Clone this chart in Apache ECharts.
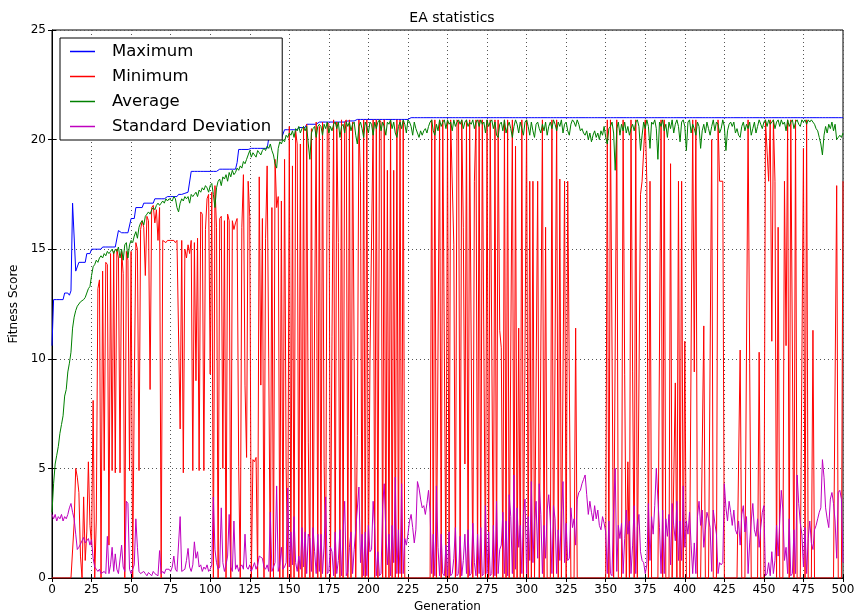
<!DOCTYPE html>
<html><head><meta charset="utf-8">
<script src="https://cdn.jsdelivr.net/npm/echarts@6/dist/echarts.min.js"></script>
<style>html,body{margin:0;padding:0;background:#fff}#c{width:856px;height:614px}</style>
</head><body><div id="c"></div>
<script>
var seriesNames = ["Maximum", "Minimum", "Average", "Standard Deviation"];
var xTicks = [0,25,50,75,100,125,150,175,200,225,250,275,300,325,350,375,400,425,450,475,500];
var yTicks = [0,5,10,15,20,25];

var maximum = [
10.6,12.7,12.7,12.7,12.7,12.7,12.7,12.7,13.0,13.0,
13.0,12.9,13.1,17.1,17.1,14.0,14.0,14.4,14.4,14.4,
14.4,14.4,14.8,14.8,14.8,15.0,15.0,15.0,15.0,15.0,
15.0,15.0,15.1,15.1,15.1,15.1,15.1,15.1,15.1,15.1,
15.1,15.1,15.85,15.85,15.75,15.75,15.75,15.75,15.75,15.75,
16.4,16.4,16.4,16.9,16.9,16.9,16.9,16.9,17.1,17.1,
17.1,17.1,17.1,17.1,17.1,17.3,17.3,17.3,17.3,17.3,
17.3,17.3,17.3,17.4,17.4,17.4,17.4,17.4,17.4,17.4,
17.5,17.5,17.5,17.55,17.55,17.6,17.6,17.65,18.55,18.55,
18.55,18.55,18.55,18.55,18.55,18.55,18.55,18.55,18.55,18.55,
18.55,18.55,18.55,18.55,18.55,18.55,18.65,18.65,18.65,18.65,
18.65,18.65,18.65,18.65,18.65,18.65,18.65,18.95,19.55,19.55,
19.55,19.55,19.55,19.55,19.55,19.6,19.6,19.6,19.6,19.6,
19.6,19.6,19.6,19.6,19.6,19.6,19.6,20.05,20.05,20.05,
20.05,20.05,20.05,20.05,20.05,20.05,20.05,20.45,20.45,20.45,
20.45,20.45,20.45,20.45,20.45,20.45,20.55,20.55,20.55,20.55,
20.55,20.7,20.7,20.7,20.7,20.7,20.7,20.7,20.7,20.8,
20.8,20.8,20.8,20.8,20.8,20.8,20.8,20.8,20.8,20.8,
20.8,20.8,20.8,20.8,20.8,20.8,20.85,20.85,20.85,20.85,
20.85,20.85,20.85,20.92,20.92,20.92,20.92,20.92,20.92,20.92,
20.92,20.92,20.92,20.92,20.92,20.92,20.92,20.92,20.92,20.92,
20.92,20.92,20.92,20.92,20.92,20.92,20.92,20.92,20.92,20.92,
20.92,20.92,20.92,20.92,20.92,20.92,21,21,21,21,
21,21,21,21,21,21,21,21,21,21,
21,21,21,21,21,21,21,21,21,21,
21,21,21,21,21,21,21,21,21,21,
21,21,21,21,21,21,21,21,21,21,
21,21,21,21,21,21,21,21,21,21,
21,21,21,21,21,21,21,21,21,21,
21,21,21,21,21,21,21,21,21,21,
21,21,21,21,21,21,21,21,21,21,
21,21,21,21,21,21,21,21,21,21,
21,21,21,21,21,21,21,21,21,21,
21,21,21,21,21,21,21,21,21,21,
21,21,21,21,21,21,21,21,21,21,
21,21,21,21,21,21,21,21,21,21,
21,21,21,21,21,21,21,21,21,21,
21,21,21,21,21,21,21,21,21,21,
21,21,21,21,21,21,21,21,21,21,
21,21,21,21,21,21,21,21,21,21,
21,21,21,21,21,21,21,21,21,21,
21,21,21,21,21,21,21,21,21,21,
21,21,21,21,21,21,21,21,21,21,
21,21,21,21,21,21,21,21,21,21,
21,21,21,21,21,21,21,21,21,21,
21,21,21,21,21,21,21,21,21,21,
21,21,21,21,21,21,21,21,21,21,
21,21,21,21,21,21,21,21,21,21,
21,21,21,21,21,21,21,21,21,21,
21,21,21,21,21,21,21,21,21,21,
21];

var minimum = [
0,0,0,0,0,0,0,0,0,0,
0,0,0,0,2.5,5.0,4.6,3.9,1.0,0,
3.7,0.8,2.1,5.3,2.4,1.5,8.1,0,2.6,13.2,
13.6,0,14.0,4.9,14.4,14.3,1.5,14.8,4.9,14.9,
4.8,15.0,14.6,4.8,14.9,13.9,0,14.9,14.5,4.9,
14.9,0,8.6,15.3,15.0,4.9,15.9,16.3,16.0,13.8,
16.5,16.3,8.6,16.9,17.0,16.2,16.8,15.4,16.9,0,
15.4,15.4,15.3,15.4,15.4,15.4,15.4,15.4,15.3,15.4,
15.4,6.8,15.4,4.8,15.0,14.6,15.2,14.8,15.4,4.9,
15.3,9.0,15.5,4.9,16.7,16.6,4.9,15.9,17.3,17.5,
9.3,17.6,0,17.9,16.0,0,16.4,16.5,5.0,16.3,
0,16.6,16.3,0,16.3,15.9,16.2,16.4,5.1,0,
16.0,18.4,8.8,5.5,18.1,16.5,0,5.4,5.3,5.5,
0,18.3,8.8,16.4,0,15.5,18.8,10.0,0,16.9,
0,19.1,16.9,17.4,0,17.2,0,19.1,5.1,0,
20.6,0,18.8,0,20.4,19.8,0,19.8,0,20.6,
0,20.7,6.2,0,20.5,0,12.0,20.8,0,20.6,
0,20.8,5.3,0,20.8,20.7,0,11.0,20.9,0,
20.8,15.3,0,20.9,0,20.8,20.9,0,20.9,0,
20.8,10.1,0,6.5,20.9,18.1,0,20.9,0,20.9,
0,10.0,10.0,20.9,0,20.9,0,20.9,20.8,0,
20.9,0,18.6,0,20.9,0,18.6,0,20.9,0,
20.9,0,20.85,0,0,0,0,0,0,0,
0,0,0,0,0,0,0,0,0,0,
20.9,0,20.9,0,0,20.9,0,20.9,20.9,0,
20.9,0,20.9,20.9,15.2,0,20.9,20.8,0,20.9,
16.0,5.2,20.9,0,20.9,20.9,0,18.1,20.9,0,
20.9,0,20.9,20.9,0,20.9,0,20.9,20.9,0,
20.9,0,20.9,11.3,10.5,0,20.9,0,20.9,0,
0,20.9,0,19.7,0,11.4,0,20.9,0,0,
20.9,0,18.1,0,18.1,0,0,18.1,0,0,
20.9,0,16.0,0,0,0,20.9,0,0,20.9,
0,18.2,0,0,18.1,0,18.1,18.1,0,0,
0,11.4,0,0,0,0,0,0,0,0,
0,0,0,0,0,0,0,0,0,0,
0,20.9,0,20.9,20.9,0,0,20.9,0,0,
0,20.9,9.3,0,5.3,0,20.9,9.4,0,20.9,
0,0,17.5,18.1,18.1,20.9,18.1,0,18.1,0,
0,0,0,0,0,20.9,0,20.9,0,0,
0,18.9,0,0,8.9,0,18.1,0,18.1,0,
10.8,0,0,0,0,20.9,9.4,20.9,0,0,
0,0,11.5,0,0,0,0,20.0,0,0,
0,20.9,18.1,18.1,18.1,0,0,0,0,0,
0,0,0,0,0,10.4,0,0,0,0,
20.9,9.8,0,0,0,0,0,10.3,0,0,
0,20.9,20.9,18.1,20.9,10.8,20.9,18.1,0,16.0,
0,0,0,18.1,10.6,20.9,0,20.9,20.9,0,
20.9,0,0,0,0,19.6,0,20.9,0,0,
0,11.3,0,0,0,0,0,0,0,0,
0,0,0,0,0,0,17.9,0,0,0,
18.1];

var average = [
3.0,4.3,5.2,5.6,6.0,6.6,7.0,7.4,8.3,8.6,
9.4,9.8,10.3,11.4,11.9,12.2,12.4,12.5,12.6,12.6,
12.7,12.8,13.0,13.2,13.3,13.8,14.2,14.3,14.5,14.4,
14.6,14.7,14.6,14.8,14.7,14.9,14.8,14.9,15.0,14.8,
15.0,14.9,15.1,14.6,15.0,14.5,15.2,15.3,14.6,15.2,
15.4,15.3,15.6,15.8,15.5,16.0,16.2,16.3,16.1,16.5,
16.6,16.7,16.6,16.8,16.9,16.8,17.0,17.1,17.0,17.1,
17.2,17.1,17.3,17.2,17.3,17.3,17.2,17.4,17.3,16.9,
16.7,17.1,17.3,17.2,17.4,17.3,17.4,17.1,17.5,17.4,
17.5,17.6,17.4,17.7,17.6,17.8,17.7,17.9,17.8,17.6,
17.9,18.0,17.5,16.9,17.8,18.1,18.2,17.9,18.3,18.2,
18.4,18.1,18.5,18.3,18.6,18.4,18.5,18.7,18.6,18.8,
18.7,19.0,18.9,19.1,19.3,19.5,19.2,19.4,19.3,19.2,
19.5,19.4,19.3,19.5,19.6,19.5,19.7,19.6,19.8,19.5,
19.3,18.9,18.7,19.6,19.9,19.8,20.0,19.9,20.2,20.1,
20.3,20.2,20.4,20.1,20.5,20.4,20.6,20.3,20.5,20.6,
20.4,20.6,19.8,19.1,20.3,20.5,20.6,20.1,20.6,20.7,
20.6,20.2,20.7,20.5,20.8,20.3,20.6,20.4,20.7,20.8,
20.5,20.8,20.1,20.6,20.7,20.3,20.8,20.6,20.8,20.4,
20.7,20.8,20.2,19.8,20.6,20.8,20.5,20.1,20.8,20.6,
20.3,20.8,20.7,20.2,20.8,20.5,20.8,20.9,20.4,20.8,
20.6,20.2,20.8,20.7,20.9,20.5,20.8,20.3,20.1,20.6,
20.8,20.5,20.9,20.7,20.3,20.9,20.8,20.6,20.2,20.8,
20.5,20.3,20.1,20.4,20.2,20.4,20.5,20.3,20.6,20.8,
20.9,20.4,20.2,20.7,20.4,20.9,20.6,20.8,20.9,20.5,
20.9,20.7,20.8,20.4,20.9,20.6,20.8,20.9,20.7,20.9,
20.5,20.8,20.9,20.6,20.8,20.7,20.9,20.5,20.8,20.9,
20.6,20.9,20.7,20.8,20.3,20.9,20.6,20.8,20.9,20.5,
20.8,20.2,20.1,20.7,20.8,20.4,20.9,20.3,20.6,20.8,
20.5,20.1,20.6,20.9,20.7,20.3,20.8,20.5,20.2,20.8,
20.9,20.6,20.2,20.8,20.4,20.1,20.7,20.8,20.5,20.3,
20.7,20.4,20.8,20.2,20.6,20.8,20.5,20.9,20.7,20.4,
20.8,20.6,20.9,20.3,20.7,20.8,20.4,20.2,20.7,20.9,
20.8,20.6,20.9,20.7,20.4,20.5,20.3,20.2,20.4,20.0,
20.3,19.9,20.2,20.4,20.1,20.3,20.0,20.4,20.2,20.6,
20.1,19.8,20.5,20.6,20.8,20.3,18.6,20.5,20.8,20.2,
20.7,20.4,20.8,20.3,20.6,20.2,20.5,20.7,20.4,20.8,
20.9,20.6,19.5,20.2,20.8,20.5,20.9,20.6,19.6,20.8,
20.7,20.9,20.5,19.1,20.8,20.6,20.9,20.4,20.7,20.1,
20.8,20.5,20.9,20.3,20.7,20.9,20.6,19.9,20.8,20.9,
20.6,19.5,20.8,20.9,20.3,20.7,20.5,20.2,20.8,20.6,
19.6,20.4,20.7,20.3,20.8,20.5,20.2,20.6,20.9,20.4,
20.8,20.7,20.3,20.5,20.9,20.6,19.5,20.4,20.7,20.8,
20.6,20.8,20.3,20.5,20.2,20.1,20.6,20.8,20.4,20.7,
20.5,20.8,20.2,20.5,20.8,20.3,20.6,20.9,20.7,20.5,
20.8,20.9,20.6,20.9,20.7,20.8,20.9,20.5,20.8,20.9,
20.6,20.9,20.7,20.8,20.4,20.9,20.6,20.8,20.9,20.5,
20.8,20.9,20.7,20.6,20.9,20.8,20.9,20.7,20.9,20.8,
20.9,20.8,20.7,20.5,20.4,20.1,19.8,19.3,20.2,20.6,
20.3,20.7,20.5,20.8,20.4,20.7,20.0,20.1,20.2,20.1,
20.3];

var stdDev = [
2.9,2.7,2.9,2.6,2.8,2.7,2.9,2.6,2.8,2.7,
2.9,3.2,3.4,3.0,2.7,2.0,1.3,1.4,1.55,1.7,
1.85,1.6,1.7,1.8,1.5,1.75,0.9,0.5,0.4,0.3,
0.4,0.2,0.15,0.3,0.2,1.9,0.2,0.6,1.4,0.3,
1.1,0.4,0.2,0.15,1.5,0.5,0.3,3.5,3.4,0.4,
0.2,0.15,0.6,2.7,1.4,0.3,0.2,0.15,0.3,0.2,
0.1,0.25,0.2,0.1,0.3,0.2,0.15,0.1,1.25,0.2,
0.3,0.2,0.4,0.35,0.4,0.3,0.5,1.0,0.4,0.3,
0.3,2.8,0.3,0.3,0.4,0.8,1.35,0.5,0.3,0.6,
1.65,0.9,1.2,0.5,0.6,0.3,0.5,0.4,0.6,0.3,
0.4,0.6,3.7,1.3,0.7,0.4,0.5,3.2,0.7,0.3,
0.6,1.0,2.9,0.5,0.3,2.6,0.4,0.6,0.3,0.5,
0.6,0.4,2.0,0.5,0.4,0.6,0.3,0.5,0.7,0.4,
0.6,1.0,1.0,0.9,0.5,0.4,0.6,0.3,3.0,0.3,
0.5,0.7,4.2,0.3,0.6,1.4,0.4,0.5,0.7,4.1,
0.5,2.1,0.6,2.8,0.7,0.3,1.0,0.4,2.3,0.5,
2.1,0.2,2.0,1.8,0.3,2.3,1.2,0.2,2.0,0.3,
2.0,0.2,1.5,3.7,0.2,0.3,1.4,1.2,0.1,2.1,
0.2,0.8,2.2,0.1,2.0,3.5,0.1,0.3,1.4,2.1,
0.2,1.3,2.2,2.2,4.15,0.7,2.0,0.1,2.1,0.1,
2.4,1.2,1.3,3.5,2.2,0.1,1.2,0.1,0.2,3.3,
4.3,2.1,0.6,2.0,0.1,2.4,0.7,4.6,0.2,2.2,
0.2,4.3,0.2,1.8,1.5,2.0,2.6,2.9,2.3,1.6,
2.2,4.4,4.1,3.6,3.2,3.3,2.9,3.4,4.0,3.0,
0.2,2.0,0.1,4.2,1.4,0.1,2.0,0.2,0.1,1.5,
0.1,2.1,0.1,0.2,0.9,2.3,0.1,0.2,1.9,0.1,
0.8,2.0,0.2,2.2,0.1,0.2,2.5,0.7,0.1,2.0,
0.2,2.3,0.1,0.2,3.3,0.2,2.1,0.1,0.2,2.4,
0.1,3.5,0.2,1.3,1.5,3.0,0.2,2.6,0.1,3.8,
2.8,0.2,4.7,0.4,3.2,1.4,2.4,0.2,2.9,3.6,
0.2,2.8,0.8,4.4,0.7,2.6,3.5,0.9,4.3,2.9,
0.2,2.4,0.9,3.1,3.8,2.6,0.2,3.3,2.7,0.2,
2.2,0.8,3.0,4.4,0.7,2.5,0.8,0.9,3.2,2.3,
2.7,1.5,3.6,3.9,4.0,4.3,4.5,4.7,3.8,2.9,
3.5,3.0,2.6,3.3,2.7,3.1,2.4,2.2,2.8,2.5,
2.1,0.2,2.6,0.2,0.1,3.2,5.0,0.3,2.4,1.8,
2.5,0.2,1.8,3.1,2.0,2.6,0.2,1.5,3.3,0.2,
2.3,2.9,1.2,0.8,0.7,0.2,0.6,3.4,0.8,2.8,
2.0,3.3,5.0,3.6,2.3,0.2,3.1,0.2,2.7,1.9,
2.9,0.6,3.4,2.4,1.7,3.5,0.8,2.6,0.8,4.2,
1.4,2.6,2.0,3.0,1.5,0.2,1.6,0.2,2.8,3.5,
2.4,3.1,1.4,2.2,3.0,2.7,2.3,0.3,3.1,2.5,
2.0,0.2,0.7,0.6,0.7,4.3,3.2,2.6,3.5,3.0,
2.4,3.1,2.2,2.0,2.6,1.5,2.9,3.3,2.1,2.8,
0.2,1.6,2.6,3.4,2.2,1.9,2.7,1.4,2.3,3.0,
3.3,0.1,0.2,0.7,0.1,1.2,0.2,0.8,2.4,1.0,
2.6,4.0,3.1,0.8,1.4,0.2,2.7,0.1,0.2,2.2,
0.2,4.7,3.4,2.5,2.0,0.5,2.3,0.2,1.8,2.6,
1.6,1.3,2.2,2.4,2.7,3.0,3.2,5.4,4.6,3.2,
2.7,2.3,3.6,3.9,3.4,2.6,0.9,3.9,4.0,3.6,
0.7];

var colors = ["#0000ff", "#ff0000", "#008000", "#bf00bf"];
var seriesData = [maximum, minimum, average, stdDev];

function pairs(arr) { return arr.map(function (v, i) { return [i, v]; }); }

var FONT = "DejaVu Sans";
var chart = echarts.init(document.getElementById('c'), null, { renderer: 'canvas' });
var gridLine = { show: true, lineStyle: { color: '#555', type: [1, 3], width: 1 } };
var tickStyle = { show: true, inside: true, length: 4, lineStyle: { color: '#000' } };

var option = {
  animation: false,
  backgroundColor: '#fff',
  title: {
    text: 'EA statistics', left: 447, top: 6, textAlign: 'center',
    textStyle: { fontFamily: FONT, fontSize: 14, fontWeight: 'normal', color: '#000' }
  },
  legend: {
    data: seriesNames, orient: 'vertical', left: 60, top: 38,
    icon: 'rect', itemWidth: 25, itemHeight: 1.5, itemGap: 6,
    padding: [4, 11, 4, 10],
    backgroundColor: '#fff', borderColor: '#000', borderWidth: 1,
    textStyle: { fontFamily: FONT, fontSize: 16.5, color: '#000', lineHeight: 19, padding: [0, 0, 0, 12] }
  },
  grid: {
    left: 52, right: 13, top: 30, bottom: 36, containLabel: false, outerBoundsMode: 'none',
    show: true, borderColor: '#000', borderWidth: 1, backgroundColor: 'transparent'
  },
  xAxis: [{
    type: 'value', min: xTicks[0], max: xTicks[xTicks.length - 1], interval: 25,
    name: 'Generation', nameLocation: 'middle', nameGap: 22,
    nameTextStyle: { fontFamily: FONT, fontSize: 12, color: '#000' },
    axisLine: { show: true, lineStyle: { color: '#000' } }, axisTick: tickStyle,
    axisLabel: { fontFamily: FONT, fontSize: 12, color: '#000', margin: 6 },
    splitLine: gridLine
  }, {
    type: 'value', position: 'top', min: 0, max: 500, interval: 25,
    axisLine: { show: false }, axisTick: tickStyle, axisLabel: { show: false }, splitLine: { show: false }
  }],
  yAxis: [{
    type: 'value', min: yTicks[0], max: yTicks[yTicks.length - 1], interval: 5,
    name: 'Fitness Score', nameLocation: 'middle', nameGap: 19, nameRotate: 90,
    nameTextStyle: { fontFamily: FONT, fontSize: 12, color: '#000' },
    axisLine: { show: true, lineStyle: { color: '#000' } }, axisTick: tickStyle,
    axisLabel: { fontFamily: FONT, fontSize: 12, color: '#000', margin: 6 },
    splitLine: gridLine
  }, {
    type: 'value', position: 'right', min: 0, max: 25, interval: 5,
    axisLine: { show: false }, axisTick: tickStyle, axisLabel: { show: false }, splitLine: { show: false }
  }],
  series: seriesNames.map(function (name, k) {
    return {
      name: name, type: 'line', data: pairs(seriesData[k]),
      xAxisIndex: 0, yAxisIndex: 0,
      showSymbol: false, symbol: 'none',
      lineStyle: { color: colors[k], width: 1 },
      itemStyle: { color: colors[k] },
      emphasis: { disabled: true }
    };
  })
};
chart.setOption(option);
</script>
</body></html>
